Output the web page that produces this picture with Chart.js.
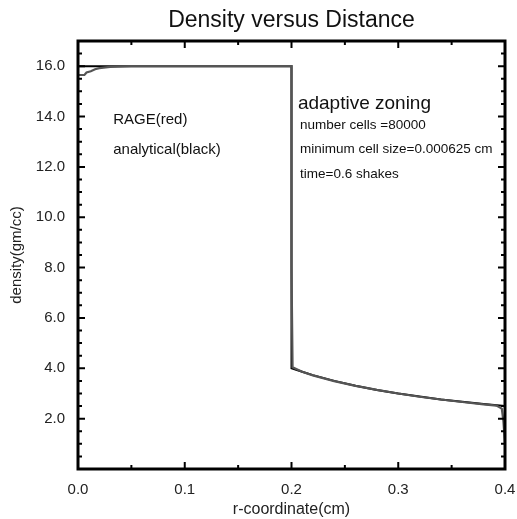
<!DOCTYPE html>
<html>
<head>
<meta charset="utf-8">
<script src="https://cdn.jsdelivr.net/npm/chart.js@4.4.0/dist/chart.umd.min.js"></script>
<style>
  html, body { margin: 0; padding: 0; background: #fff; overflow: hidden; }
  #wrap { width: 517px; height: 519px; }
</style>
</head>
<body>
<div id="wrap"><canvas id="densityChart"></canvas></div>
<script>
// dados
var rageX = [0, 0.006, 0.008, 0.012, 0.016, 0.02, 0.03, 0.05, 0.1, 0.15, 0.199, 0.2, 0.2, 0.201,
    0.21, 0.22, 0.24, 0.26, 0.28, 0.30, 0.32, 0.34, 0.36, 0.38, 0.392, 0.397, 0.3985, 0.4];
var rageY = [15.65, 15.65, 15.75, 15.8, 15.88, 15.92, 15.97, 16.0, 16.0, 16.0, 16.0, 16.0, 8.0, 4.04,
    3.86, 3.72, 3.49, 3.30, 3.14, 3.0, 2.87, 2.76, 2.66, 2.57, 2.52, 2.40, 1.9, 1.0];

var analyticalX = [0, 0.2, 0.2, 0.21, 0.22, 0.24, 0.26, 0.28, 0.30, 0.32, 0.34, 0.36, 0.38, 0.40];
var analyticalY = [16.0, 16.0, 4.0, 3.86, 3.73, 3.5, 3.31, 3.14, 3.0, 2.88, 2.76, 2.67, 2.58, 2.5];

var xTicks = [0, 0.1, 0.2, 0.3, 0.4];
var yTicks = [2, 4, 6, 8, 10, 12, 14, 16];

var titleText = 'Density versus Distance';
var notes = [
    { text: 'RAGE(red)', x: 0.033, y: 13.7, size: 15 },
    { text: 'analytical(black)', x: 0.033, y: 12.5, size: 15 },
    { text: 'adaptive zoning', x: 0.206, y: 14.3, size: 19 },
    { text: 'number cells =80000', x: 0.208, y: 13.5, size: 13.5 },
    { text: 'minimum cell size=0.000625 cm', x: 0.208, y: 12.55, size: 13.5 },
    { text: 'time=0.6 shakes', x: 0.208, y: 11.55, size: 13.5 }
];

var FONT = '"Liberation Sans", Arial, Helvetica, sans-serif';

function toPoints(xs, ys) {
    return xs.map(function (x, i) { return { x: x, y: ys[i] }; });
}

// moldura, tracos internos, titulo e textos
var framePlugin = {
    id: 'frame',
    afterDraw: function (chart) {
        var ctx = chart.ctx;
        var a = chart.chartArea;
        var xs = chart.scales.x, ys = chart.scales.y;
        ctx.save();
        ctx.strokeStyle = '#000';
        ctx.lineWidth = 2;
        var v, px, len;
        for (v = 0; v <= 0.4001; v += 0.05) {
            px = xs.getPixelForValue(v);
            len = (Math.round(v * 100) % 10 === 0) ? 7 : 4;
            ctx.beginPath();
            ctx.moveTo(px, a.bottom); ctx.lineTo(px, a.bottom - len);
            ctx.moveTo(px, a.top); ctx.lineTo(px, a.top + len);
            ctx.stroke();
        }
        for (v = 0; v <= 17.001; v += 0.5) {
            px = ys.getPixelForValue(v);
            len = (Math.round(v * 10) % 20 === 0) ? 7 : 4;
            ctx.beginPath();
            ctx.moveTo(a.left, px); ctx.lineTo(a.left + len, px);
            ctx.moveTo(a.right, px); ctx.lineTo(a.right - len, px);
            ctx.stroke();
        }
        ctx.lineWidth = 3;
        ctx.strokeRect(a.left, a.top, a.right - a.left, a.bottom - a.top);

        ctx.fillStyle = '#111';
        ctx.textAlign = 'center';
        ctx.textBaseline = 'alphabetic';
        ctx.font = '23px ' + FONT;
        ctx.fillText(titleText, (a.left + a.right) / 2, 27);

        ctx.textAlign = 'left';
        notes.forEach(function (n) {
            ctx.font = n.size + 'px ' + FONT;
            ctx.fillText(n.text, xs.getPixelForValue(n.x), ys.getPixelForValue(n.y));
        });
        ctx.restore();
    }
};

var ctx = document.getElementById('densityChart').getContext('2d');
var densityChart = new Chart(ctx, {
    type: 'scatter',
    data: {
        datasets: [{
            label: 'RAGE',
            data: toPoints(rageX, rageY),
            showLine: true,
            borderColor: '#555',
            borderWidth: 2.2,
            pointRadius: 0,
            tension: 0
        }, {
            label: 'analytical',
            data: toPoints(analyticalX, analyticalY),
            showLine: true,
            borderColor: '#000',
            borderWidth: 2,
            pointRadius: 0,
            tension: 0
        }]
    },
    options: {
        responsive: true,
        maintainAspectRatio: false,
        animation: false,
        layout: { padding: { top: 41, right: 12, left: 0, bottom: 0 } },
        plugins: {
            legend: { display: false },
            tooltip: { enabled: false }
        },
        scales: {
            x: {
                type: 'linear',
                min: 0,
                max: 0.4,
                grid: { display: false, drawTicks: false },
                border: { display: false },
                afterBuildTicks: function (scale) {
                    scale.ticks = xTicks.map(function (v) { return { value: v }; });
                },
                afterFit: function (scale) {
                    scale.height = 50;
                    scale.paddingLeft = 0;
                    scale.paddingRight = 0;
                },
                ticks: {
                    padding: 12,
                    color: '#222',
                    font: { family: FONT, size: 15 },
                    maxRotation: 0,
                    callback: function (value) { return Number(value).toFixed(1); }
                },
                title: {
                    display: true,
                    text: 'r-coordinate(cm)',
                    color: '#222',
                    font: { family: FONT, size: 16 },
                    padding: { top: 0, bottom: 0 }
                }
            },
            y: {
                type: 'linear',
                min: 0,
                max: 17,
                grid: { display: false, drawTicks: false },
                border: { display: false },
                afterBuildTicks: function (scale) {
                    scale.ticks = yTicks.map(function (v) { return { value: v }; });
                },
                afterFit: function (scale) {
                    scale.width = 78;
                    scale.paddingTop = 0;
                    scale.paddingBottom = 0;
                },
                ticks: {
                    padding: 13,
                    color: '#222',
                    font: { family: FONT, size: 15 },
                    callback: function (value) { return Number(value).toFixed(1); }
                },
                title: {
                    display: true,
                    text: 'density(gm/cc)',
                    color: '#222',
                    font: { family: FONT, size: 15 },
                    padding: { top: 8, bottom: 0 }
                }
            }
        }
    },
    plugins: [framePlugin]
});
</script>
</body>
</html>
